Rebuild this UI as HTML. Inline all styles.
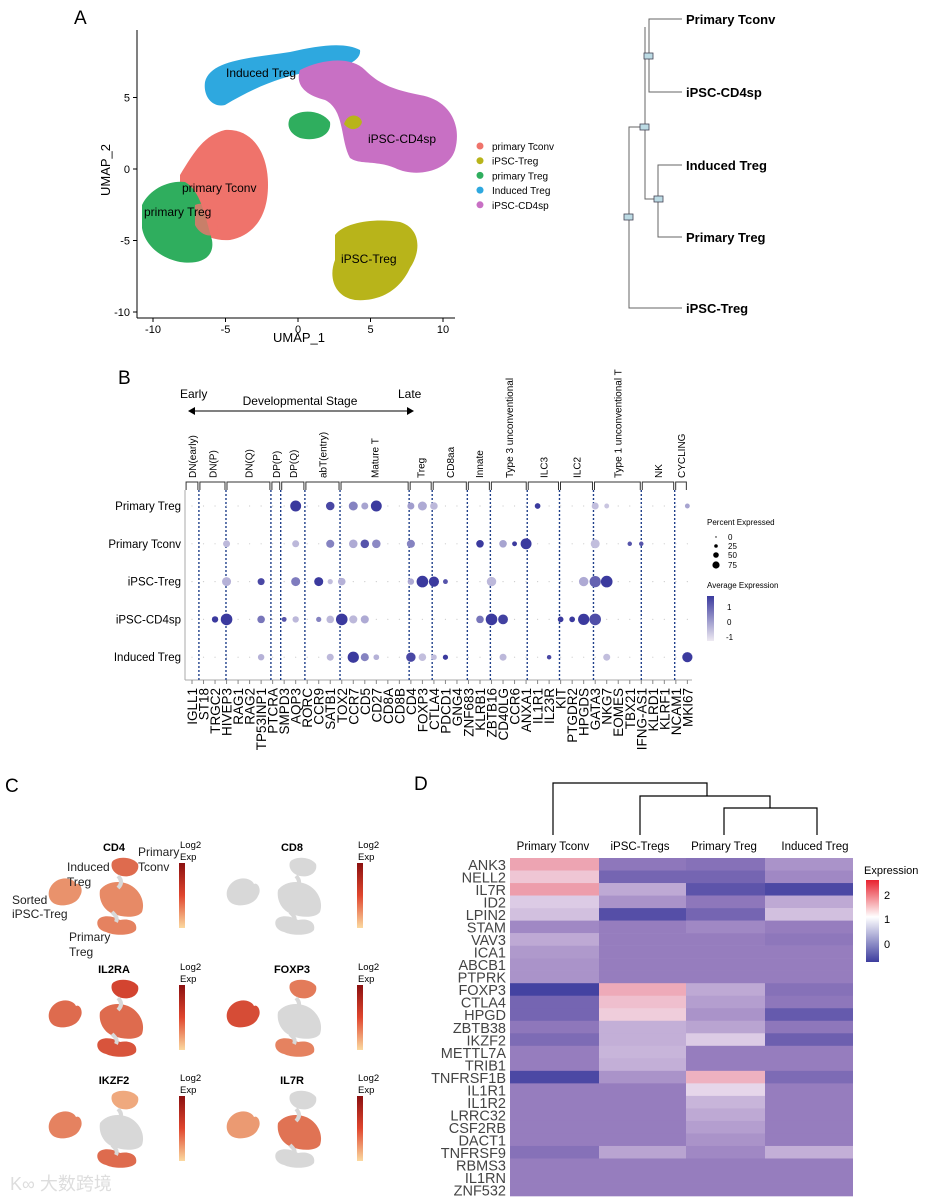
<!DOCTYPE html>
<html><head><meta charset="utf-8"><style>
body{margin:0;background:#fff}
svg{display:block;font-family:"Liberation Sans",sans-serif}
</style></head><body>
<svg id="s" width="928" height="1203" viewBox="0 0 928 1203" xmlns="http://www.w3.org/2000/svg">
<text x="74" y="24" font-size="19">A</text>
<text x="118" y="384" font-size="19">B</text>
<text x="5" y="792" font-size="19">C</text>
<text x="414" y="790" font-size="19">D</text>

<g>
<line x1="137" y1="30" x2="137" y2="318" stroke="#000" stroke-width="1"/>
<line x1="137" y1="318" x2="455" y2="318" stroke="#000" stroke-width="1"/>
<path d="M205,82 C210,60 250,58 290,52 C320,45 345,42 360,50 C362,62 340,70 310,72 C280,76 250,90 225,105 C212,108 203,96 205,82Z" fill="#2ea8df"/>
<path d="M300,70 C320,60 350,55 365,70 C380,85 395,90 420,95 C450,100 462,125 455,150 C448,172 415,178 395,168 C375,160 360,165 350,158 C340,140 345,110 325,100 C305,95 295,85 300,70Z" fill="#c870c4"/>
<path d="M290,118 C300,108 322,110 330,122 C332,136 315,142 300,138 C290,134 286,126 290,118Z" fill="#2fae5e"/>
<path d="M344,124 C348,112 360,114 362,122 C360,130 350,132 344,124Z" fill="#b8b41a"/>
<path d="M180,175 C195,150 205,135 225,130 C250,128 268,150 268,185 C268,215 255,235 230,240 C205,242 185,225 180,205Z" fill="#ef736b"/>
<path d="M142,205 C150,188 170,180 185,182 C200,190 205,215 212,240 C215,258 200,265 180,262 C160,258 145,245 142,228Z" fill="#2fae5e"/>
<path d="M195,205 C205,200 215,210 218,230 C212,240 200,235 195,225Z" fill="#ef736b" opacity="0.8"/>
<path d="M335,235 C345,222 375,218 400,222 C420,228 422,250 410,268 C400,290 380,302 355,300 C335,297 328,278 335,260Z" fill="#b8b41a"/>
<text x="226" y="77" font-size="12">Induced Treg</text>
<text x="368" y="143" font-size="12">iPSC-CD4sp</text>
<text x="182" y="192" font-size="12">primary Tconv</text>
<text x="144" y="216" font-size="12">primary Treg</text>
<text x="341" y="263" font-size="12">iPSC-Treg</text>
<g id="umapTicks"></g>
<text x="299" y="342" font-size="13" text-anchor="middle">UMAP_1</text>
<text transform="translate(110,170) rotate(-90)" font-size="13" text-anchor="middle">UMAP_2</text>
<g id="umapLegend"></g>
</g>

<g stroke="#666" stroke-width="1" fill="none">
<path d="M682,19 H649 V92 H682"/>
<path d="M682,165 H658 V237 H682"/>
<path d="M645,27 V199 H658"/>
<path d="M682,308 H629 V127 H645"/>
</g>
<g fill="#bcdbe4" stroke="#445" stroke-width="0.8">
<rect x="644" y="53" width="9" height="6"/><rect x="640" y="124" width="9" height="6"/>
<rect x="654" y="196" width="9" height="6"/><rect x="624" y="214" width="9" height="6"/>
</g>
<g font-size="13" font-weight="bold">
<text x="686" y="24">Primary Tconv</text><text x="686" y="97">iPSC-CD4sp</text>
<text x="686" y="170">Induced Treg</text><text x="686" y="242">Primary Treg</text>
<text x="686" y="313">iPSC-Treg</text>
</g>

<g>
<text x="180" y="398" font-size="12">Early</text>
<text x="398" y="398" font-size="12">Late</text>
<text x="300" y="405" font-size="12" text-anchor="middle">Developmental Stage</text>
<line x1="192" y1="411" x2="410" y2="411" stroke="#000"/>
<path d="M188,411 l7,-4 v8z M414,411 l-7,-4 v8z" fill="#000"/>
<g id="dotGroups"></g>
<line x1="185" y1="490" x2="185" y2="680" stroke="#aaa"/>
<line x1="185" y1="680" x2="692" y2="680" stroke="#aaa"/>
<g id="dotGrid"></g>
<g id="dots"></g>
<g id="dotX"></g>
<g id="dotY"></g>
</g>
<g font-size="8">
<text x="707" y="525">Percent Expressed</text>
<circle cx="716" cy="537" r="0.7" fill="#000"/><text x="728" y="540">0</text>
<circle cx="716" cy="546" r="1.8" fill="#000"/><text x="728" y="549">25</text>
<circle cx="716" cy="555" r="2.8" fill="#000"/><text x="728" y="558">50</text>
<circle cx="716" cy="565" r="3.6" fill="#000"/><text x="728" y="568">75</text>
<text x="707" y="588">Average Expression</text>
<defs>
<linearGradient id="ag" x1="0" y1="0" x2="0" y2="1"><stop offset="0" stop-color="#3b3a9e"/><stop offset="1" stop-color="#eeeaf2"/></linearGradient>
<linearGradient id="eg" x1="0" y1="0" x2="0" y2="1"><stop offset="0" stop-color="#e8222f"/><stop offset="0.45" stop-color="#fff"/><stop offset="1" stop-color="#3d3d9e"/></linearGradient>
<linearGradient id="og" x1="0" y1="0" x2="0" y2="1"><stop offset="0" stop-color="#8b1010"/><stop offset="0.5" stop-color="#e0462e"/><stop offset="1" stop-color="#fbd9a0"/></linearGradient>
</defs>
<rect x="707" y="596" width="7" height="45" fill="url(#ag)"/>
<text x="727" y="610">1</text><text x="727" y="625">0</text><text x="726" y="640">-1</text>
</g>

<g id="panelC"></g>
<g font-size="12" fill="#222">
<text x="67" y="871">Induced</text><text x="67" y="886">Treg</text>
<text x="138" y="856">Primary</text><text x="138" y="871">Tconv</text>
<text x="12" y="904">Sorted</text><text x="12" y="918">iPSC-Treg</text>
<text x="69" y="941">Primary</text><text x="69" y="956">Treg</text>
</g>
<text x="10" y="1190" font-size="18" fill="#ddd" font-family="Liberation Sans, Noto Sans CJK SC, sans-serif">K∞ 大数跨境</text>

<g stroke="#000" fill="none" stroke-width="1.2">
<path d="M553,835 V783 H707 V796"/>
<path d="M640,835 V796 H770 V808"/>
<path d="M724,835 V808 H817 V835"/>
</g>
<g id="heat"></g>
<g font-size="11">
<text x="864" y="874">Expression</text>
<rect x="866" y="880" width="13" height="82" fill="url(#eg)"/>
<text x="884" y="899">2</text><text x="884" y="923">1</text><text x="884" y="948">0</text>
</g>
</svg>
<script>
const NS="http://www.w3.org/2000/svg";
function mk(tag,attrs,parent,txt){const e=document.createElementNS(NS,tag);for(const k in attrs)e.setAttribute(k,attrs[k]);if(txt!==undefined)e.textContent=txt;parent.appendChild(e);return e;}

const umapXTicks=[-10,-5,0,5,10];
const umapYTicks=[5,0,-5,-10];
const ux=v=>298+v*14.5, uy=v=>169-v*14.3;
const ut=document.getElementById('umapTicks');
umapXTicks.forEach(v=>{mk('line',{x1:ux(v),x2:ux(v),y1:318,y2:322,stroke:'#000'},ut);mk('text',{x:ux(v),y:333,'font-size':11,'text-anchor':'middle'},ut,v);});
umapYTicks.forEach(v=>{mk('line',{x1:133,x2:137,y1:uy(v),y2:uy(v),stroke:'#000'},ut);mk('text',{x:130,y:uy(v)+4,'font-size':11,'text-anchor':'end'},ut,v);});
const legendNames=['primary Tconv','iPSC-Treg','primary Treg','Induced Treg','iPSC-CD4sp'];
const legendColors=['#ef736b','#b8b41a','#2fae5e','#2ea8df','#c870c4'];
const ul=document.getElementById('umapLegend');
legendNames.forEach((n,i)=>{const g=mk('g',{},ul);


mk('circle',{cx:480,cy:146+i*14.7,r:3.5,fill:legendColors[i]},g);mk('text',{x:492,y:150+i*14.7,'font-size':10},g,n);});

const dotGenes=['IGLL1','ST18','TRGC2','HIVEP3','RAG1','RAG2','TP53INP1','PTCRA','SMPD3','AQP3','RORC','CCR9','SATB1','TOX2','CCR7','CD5','CD27','CD8A','CD8B','CD4','FOXP3','CTLA4','PDCD1','GNG4','ZNF683','KLRB1','ZBTB16','CD40LG','CCR6','ANXA1','IL1R1','IL23R','KIT','PTGDR2','HPGDS','GATA3','NKG7','EOMES','TBX21','IFNG-AS1','KLRD1','KLRF1','NCAM1','MKI67'];
const dotRows=['Primary Treg','Primary Tconv','iPSC-Treg','iPSC-CD4sp','Induced Treg'];
const groupNames=['DN(early)','DN(P)','DN(Q)','DP(P)','DP(Q)','abT(entry)','Mature T','Treg','CD8aa','Innate','Type 3 unconventional','ILC3','ILC2','Type 1 unconventional T','NK','CYCLING'];
const groupBounds=[-0.6,0.6,2.95,6.85,7.7,9.8,12.85,18.85,20.85,23.9,25.9,29.1,31.9,34.85,39.0,41.9,43.0];
const dotData=[[0,9,70,1.4],[0,12,40,1.2],[0,14,45,0.3],[0,15,25,-0.2],[0,16,70,1.4],[0,19,25,-0.1],[0,20,45,-0.3],[0,21,30,-0.5],[0,30,15,1.4],[0,35,25,-0.6],[0,36,10,-0.7],[0,43,10,-0.2],
[1,3,25,-0.5],[1,9,25,-0.5],[1,12,35,0.3],[1,14,40,-0.3],[1,15,40,1.0],[1,16,40,0.2],[1,19,35,0.3],[1,25,30,1.4],[1,27,30,-0.2],[1,28,10,1.4],[1,29,70,1.4],[1,35,45,-0.6],[1,38,8,1.0],[1,39,8,1.0],
[2,3,45,-0.4],[2,6,25,1.2],[2,9,45,0.4],[2,11,45,1.4],[2,12,12,-0.6],[2,13,30,-0.4],[2,19,20,-0.3],[2,20,80,1.4],[2,21,60,1.4],[2,22,10,1.0],[2,26,50,-0.5],[2,34,50,-0.3],[2,35,75,0.8],[2,36,80,1.4],
[3,2,20,1.4],[3,3,80,1.4],[3,6,30,0.5],[3,8,10,1.0],[3,9,20,-0.5],[3,11,12,0.3],[3,12,30,-0.5],[3,13,80,1.4],[3,14,35,-0.5],[3,15,35,-0.3],[3,25,30,0.5],[3,26,80,1.4],[3,27,55,1.3],[3,32,15,1.4],[3,33,15,1.4],[3,34,75,1.4],[3,35,80,1.1],
[4,6,20,-0.4],[4,12,25,-0.5],[4,14,75,1.4],[4,15,35,0.3],[4,16,15,-0.4],[4,19,50,1.2],[4,20,30,-0.6],[4,21,15,-0.6],[4,22,12,1.4],[4,27,25,-0.5],[4,31,8,1.2],[4,36,25,-0.6],[4,43,60,1.4]];
const gx=i=>192+i*11.52, ry=r=>506+r*37.8;
const rad=p=>0.6+Math.sqrt(p/80)*5.2;
function avgCol(v){const t=Math.max(0,Math.min(1,(v+1.2)/2.6));const a=[235,230,240],b=[59,58,158];return `rgb(${a.map((c,i)=>Math.round(c+(b[i]-c)*t)).join(',')})`;}
const dg=document.getElementById('dotGroups');
groupNames.forEach((n,i)=>{const x1=gx(groupBounds[i])+1,x2=gx(groupBounds[i+1])-1;
const g=mk('g',{},dg);


mk('path',{d:`M${x1},490 V482 H${x2} V490`,stroke:'#333',fill:'none'},g);
mk('text',{transform:`translate(${(x1+x2)/2+4},478) rotate(-90)`,'font-size':10},g,n);});
const grid=document.getElementById('dotGrid');
groupBounds.slice(1,-1).forEach(b=>mk('line',{x1:gx(b),x2:gx(b),y1:490,y2:680,stroke:'#1f3f8a','stroke-width':1.4,'stroke-dasharray':'2,2'},grid));
const dots=document.getElementById('dots');
dotRows.forEach((r,ri)=>dotGenes.forEach((g,gi)=>{const c=mk('circle',{cx:gx(gi),cy:ry(ri),r:0.6,fill:'#ccc'},dots);

}));
dotData.forEach(d=>{const c=mk('circle',{cx:gx(d[1]),cy:ry(d[0]),r:rad(d[2]),fill:avgCol(d[3])},dots);

});
const dx=document.getElementById('dotX');
dotGenes.forEach((g,i)=>{mk('line',{x1:gx(i),x2:gx(i),y1:680,y2:684,stroke:'#888'},dx);
const t=mk('text',{transform:`translate(${gx(i)+5},688) rotate(-90)`,'font-size':13.5,'text-anchor':'end'},dx,g);

});
const dy=document.getElementById('dotY');
dotRows.forEach((r,i)=>{mk('text',{x:181,y:ry(i)+4,'font-size':11.5,'text-anchor':'end'},dy,r);});

const featureGenes=['CD4','CD8','IL2RA','FOXP3','IKZF2','IL7R'];
const featureLevels=[[0.35,0.6,0.4,0.45],[-1,-1,-1,-1],[0.6,0.85,0.6,0.75],[0.8,0.5,-1,0.45],[0.45,0.2,-1,0.6],[0.3,-1,0.55,-1]];
function featCol(v){if(v<0)return '#d8d8d8';const a=[248,200,150],b=[205,45,30];return `rgb(${a.map((c,i)=>Math.round(c+(b[i]-c)*v)).join(',')})`;}
const pc=document.getElementById('panelC');
const offs=[[0,0],[178,0],[0,122],[178,122],[0,233],[178,233]];
featureGenes.forEach((g,i)=>{const [ox,oy]=offs[i];const G=mk('g',{transform:`translate(${ox},${oy})`},pc);


const L=featureLevels[i];
mk('text',{x:114,y:851,'font-size':11,'font-weight':'bold','text-anchor':'middle'},G,g);
mk('path',{d:'M50,888 C56,876 72,876 76,884 C80,882 84,890 80,896 C76,906 58,908 52,902 C48,898 48,892 50,888Z',fill:featCol(L[0])},G);
mk('path',{d:'M112,862 C116,856 132,856 138,864 C140,872 132,878 122,876 C114,874 110,868 112,862Z',fill:featCol(L[1])},G);
mk('path',{d:'M100,890 C106,882 118,880 128,884 C138,888 146,900 142,912 C138,918 124,918 114,914 C106,912 98,902 100,890Z',fill:featCol(L[2])},G);
mk('path',{d:'M98,920 C102,914 114,916 120,920 C130,918 138,922 136,930 C132,936 114,936 106,932 C98,930 96,924 98,920Z',fill:featCol(L[3])},G);
mk('path',{d:'M118,876 C122,880 122,884 118,888',stroke:'#d8d8d8','stroke-width':4,fill:'none'},G);
mk('path',{d:'M112,912 C116,916 118,918 116,922',stroke:'#d8d8d8','stroke-width':4,fill:'none'},G);
mk('text',{x:180,y:848,'font-size':9.5},G,'Log2');
mk('text',{x:180,y:860,'font-size':9.5},G,'Exp');
mk('rect',{x:179,y:863,width:6,height:65,fill:'url(#og)'},G);
});

const heatGenes=['ANK3','NELL2','IL7R','ID2','LPIN2','STAM','VAV3','ICA1','ABCB1','PTPRK','FOXP3','CTLA4','HPGD','ZBTB38','IKZF2','METTL7A','TRIB1','TNFRSF1B','IL1R1','IL1R2','LRRC32','CSF2RB','DACT1','TNFRSF9','RBMS3','IL1RN','ZNF532'];
const heatGroups=['Primary Tconv','iPSC-Tregs','Primary Treg','Induced Treg'];
const heatVals=[[1.45,0.0,-0.1,0.3],[1.2,-0.3,-0.3,0.2],[1.5,0.5,-0.6,-0.8],[0.8,0.3,0.0,0.5],[0.7,-0.7,-0.3,0.7],[0.2,0.1,0.2,0.1],[0.5,0.1,0.1,0.0],[0.35,0.1,0.1,0.1],[0.3,0.1,0.1,0.1],[0.3,0.1,0.1,0.1],[-0.9,1.4,0.5,-0.1],[-0.3,1.25,0.4,0.0],[-0.3,1.15,0.3,-0.5],[0.0,0.55,0.45,0.0],[-0.2,0.55,0.8,-0.4],[0.1,0.6,0.1,0.1],[0.1,0.55,0.1,0.1],[-0.8,0.3,1.35,-0.2],[0.1,0.1,0.9,0.1],[0.1,0.1,0.6,0.1],[0.1,0.1,0.5,0.1],[0.1,0.1,0.4,0.1],[0.1,0.1,0.3,0.1],[-0.1,0.45,0.2,0.55],[0.1,0.1,0.1,0.1],[0.1,0.1,0.1,0.1],[0.1,0.1,0.1,0.1]];
const groupEdges=[510,599,686,765,853];
const hy=i=>858+i*12.52;
function heatCol(v){const stops=[[-1,[60,60,158]],[0.1,[150,125,190]],[1,[240,225,240]],[2.4,[232,34,47]]];
for(let k=0;k<stops.length-1;k++){const[a,ca]=stops[k],[b,cb]=stops[k+1];if(v<=b||k==stops.length-2){const t=Math.max(0,Math.min(1,(v-a)/(b-a)));return `rgb(${ca.map((c,i)=>Math.round(c+(cb[i]-c)*t)).join(',')})`;}}}
const hm=document.getElementById('heat');
heatGenes.forEach((g,gi)=>{heatVals[gi].forEach((v,ci)=>{const r=mk('rect',{x:groupEdges[ci],y:hy(gi),width:groupEdges[ci+1]-groupEdges[ci],height:12.8,fill:heatCol(v)},hm);

});
const t=mk('text',{x:506,y:hy(gi)+12,'font-size':14.5,'text-anchor':'end',fill:'#444'},hm,g);

});
heatGroups.forEach((g,i)=>{const cx=[553,640,724,815][i];const t=mk('text',{x:cx,y:850,'font-size':11.5,'text-anchor':'middle'},hm,g);

});
</script>
</body></html>
